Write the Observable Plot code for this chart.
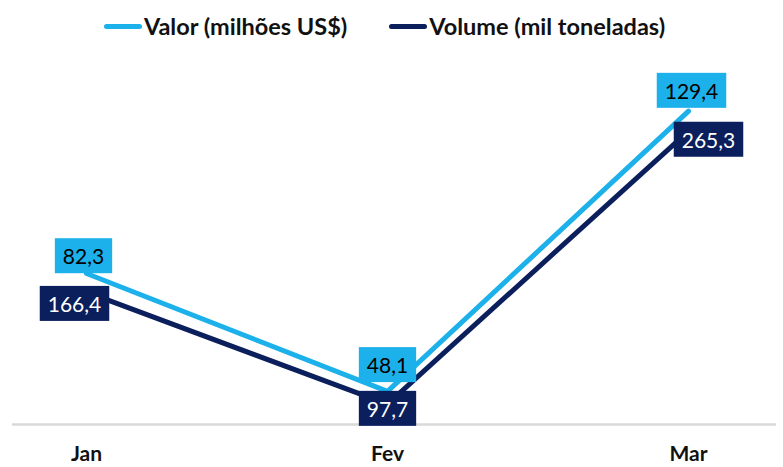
<!DOCTYPE html>
<html><head><meta charset="utf-8">
<script src="https://cdn.jsdelivr.net/npm/d3@7"></script>
<script src="https://cdn.jsdelivr.net/npm/@observablehq/plot@0.6"></script>
<style>
body{margin:0;background:#fff;font-family:Lato,sans-serif;}
#legend{height:52px;display:flex;justify-content:center;align-items:center;gap:42px;font-weight:700;font-size:23.5px;color:#111;padding-right:14px;}
#legend .item{display:flex;align-items:center;}
#legend .sw{width:38px;height:5px;border-radius:3px;margin-right:2px;}
#chart{position:relative;width:783px;height:415px;}
#chart svg{position:absolute;left:0;top:0;}
</style></head><body>
<div id="legend"></div>
<div id="chart"></div>
<script>
// ---- data ----
const months = ["Jan", "Fev", "Mar"];
const valor = [82.3, 48.1, 129.4];      // Valor (milhões US$)
const volume = [166.4, 97.7, 265.3];    // Volume (mil toneladas)
const seriesNames = ["Valor (milhões US$)", "Volume (mil toneladas)"];

// ---- styling ----
const colors = ["#1cb1ea", "#0b1f5c"];
const labelText = ["#000000", "#ffffff"];
const W = 783, H = 415;
const domainValor = [38.5, 146.4];
const domainVolume = [85.2, 313.5];
const offValor = [{dx: -3, dy: -16}, {dx: 0, dy: -25}, {dx: 3, dy: -19}];
const offVolume = [{dx: -12, dy: 13}, {dx: 0, dy: 6}, {dx: 20, dy: 10}];

const fmt = d3.formatLocale({decimal: ",", thousands: ".", grouping: [3], currency: ["", ""]}).format(".1f");
const rowsV = months.map((m, i) => ({month: m, value: valor[i]}));
const rowsQ = months.map((m, i) => ({month: m, value: volume[i]}));

function plot(domain, marks) {
  return Plot.plot({
    width: W, height: H,
    marginTop: 0, marginBottom: 43, marginLeft: 12, marginRight: 7,
    x: {type: "point", domain: months, range: [85, 688], padding: 0, axis: null},
    y: {domain, axis: null},
    style: {background: "transparent", overflow: "visible", fontFamily: "Lato, sans-serif"},
    marks
  });
}

function labelMarks(rows, offs, color, textColor) {
  return rows.map((r, i) => Plot.text([r], {
    x: "month", y: "value", text: d => fmt(d.value),
    dx: offs[i].dx, dy: offs[i].dy,
    fill: textColor, fontSize: 21
  }));
}

// legend
const legend = document.getElementById("legend");
seriesNames.forEach((n, i) => {
  const it = document.createElement("div"); it.className = "item";
  const sw = document.createElement("span"); sw.className = "sw"; sw.style.background = colors[i];
  const tx = document.createElement("span"); tx.textContent = n;
  it.append(sw, tx); legend.append(it);
});

const chart = document.getElementById("chart");
const baseSvg = plot(domainValor, [
  Plot.ruleY([domainValor[0]], {stroke: "#d9d9d9", strokeWidth: 2.5}),
  Plot.text(months, {x: d => d, frameAnchor: "bottom", dy: 36, fontSize: 21, fontWeight: 700, fill: "#111"}),
  Plot.line(rowsV, {x: "month", y: "value", stroke: colors[0], strokeWidth: 5, strokeLinecap: "round"})
]);
const volSvg = plot(domainVolume, [
  Plot.line(rowsQ, {x: "month", y: "value", stroke: colors[1], strokeWidth: 5, strokeLinecap: "round"})
]);
const lblV = plot(domainValor, labelMarks(rowsV, offValor, colors[0], labelText[0]));
const lblQ = plot(domainVolume, labelMarks(rowsQ, offVolume, colors[1], labelText[1]));
chart.append(baseSvg, volSvg, lblV, lblQ);

function addBoxes(svg, fill) {
  svg.querySelectorAll('g[aria-label="text"] text').forEach(t => {
    const b = t.getBBox();
    const r = document.createElementNS("http://www.w3.org/2000/svg", "rect");
    const tr = t.getAttribute("transform");
    if (tr) r.setAttribute("transform", tr);
    r.setAttribute("x", b.x - 8);
    r.setAttribute("width", b.width + 16);
    r.setAttribute("y", b.y + b.height / 2 - 17.5);
    r.setAttribute("height", 35);
    r.setAttribute("fill", fill);
    t.parentNode.insertBefore(r, t);
  });
}
addBoxes(lblV, colors[0]);
addBoxes(lblQ, colors[1]);
</script>
</body></html>
